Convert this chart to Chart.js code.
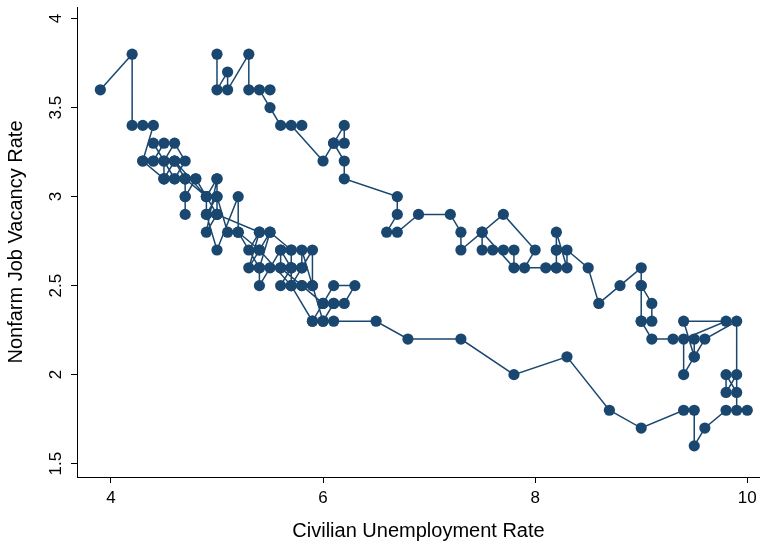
<!DOCTYPE html>
<html>
<head>
<meta charset="utf-8">
<script src="https://cdn.jsdelivr.net/npm/chart.js@4.4.1/dist/chart.umd.min.js"></script>
<style>
  html, body { margin: 0; padding: 0; background: #fff; }
  #wrap { width: 760px; height: 547px; }
</style>
</head>
<body>
<div id="wrap"><canvas id="myChart" width="760" height="547"></canvas></div>
<script>
// monthly observations, Dec 2000 onwards
const unemploymentRate = [
    3.9,
    4.2, 4.2, 4.3, 4.4, 4.3, 4.5, 4.6, 4.9, 5.0, 5.4, 5.5, 5.7,
    5.7, 5.7, 5.7, 5.9, 5.9, 5.8, 5.8, 5.7, 5.6, 5.6, 5.8, 6.0,
    5.9, 6.0, 6.1, 6.0, 6.1, 6.3, 6.2, 6.1, 6.0, 5.9, 5.8, 5.7,
    5.6, 5.7, 5.8, 5.6, 5.6, 5.5, 5.4, 5.4, 5.5, 5.4, 5.3, 5.4,
    5.3, 5.4, 5.2, 5.1, 5.0, 5.0, 4.9, 4.9, 5.0, 4.9, 5.0, 4.8,
    4.7, 4.7, 4.7, 4.6, 4.7, 4.6, 4.5, 4.4, 4.5, 4.4, 4.3, 4.4,
    4.6, 4.5, 4.5, 4.6, 4.5, 4.6, 4.7, 4.7, 4.8, 4.7, 4.9, 5.0,
    5.0, 4.9, 5.0, 5.2, 5.2, 5.4, 5.7, 5.9, 6.1, 6.5, 6.8, 7.3,
    7.8, 8.3, 8.7, 9.0, 9.4, 9.5, 9.5, 9.6, 9.8, 10.0, 9.9, 9.9,
    9.8, 9.8, 9.9, 9.9, 9.6, 9.5, 9.4, 9.4, 9.8, 9.4, 9.5, 9.5,
    9.3, 9.1, 9.0, 9.1, 9.1, 9.0, 9.0, 9.0, 9.0, 8.8, 8.6, 8.5,
    8.3, 8.3, 8.2, 8.2, 8.2, 8.2, 8.2, 8.1, 7.9, 8.0, 7.7, 7.5,
    7.8, 7.8, 7.7, 7.6, 7.5, 7.5, 7.3, 7.3, 7.2, 6.9, 6.7, 6.6,
    6.7, 6.7, 6.2, 6.2, 6.1, 6.2, 6.2, 6.1, 6.0, 5.7, 5.8, 5.6,
    5.5, 5.4, 5.5, 5.3, 5.3, 5.1, 5.1, 5.0, 5.0
];
const vacancyRate = [
    3.6,
    3.8, 3.4, 3.4, 3.4, 3.2, 3.1, 3.2, 3.0, 2.9, 2.8, 2.8, 2.7,
    2.6, 2.7, 2.5, 2.7, 2.5, 2.7, 2.6, 2.6, 2.7, 2.6, 2.5, 2.4,
    2.3, 2.3, 2.4, 2.4, 2.5, 2.5, 2.4, 2.4, 2.3, 2.5, 2.5, 2.5,
    2.5, 2.6, 2.6, 2.6, 2.7, 2.6, 2.5, 2.6, 2.8, 2.7, 2.6, 2.8,
    2.7, 2.6, 2.8, 2.8, 3.0, 2.9, 2.9, 3.0, 3.1, 2.8, 2.9, 3.1,
    3.0, 2.9, 3.1, 3.1, 3.2, 3.3, 3.2, 3.3, 3.3, 3.2, 3.2, 3.2,
    3.2, 3.1, 3.2, 3.1, 3.1, 3.2, 3.1, 3.0, 3.1, 3.1, 3.0, 3.1,
    3.0, 2.9, 2.7, 3.0, 2.8, 2.7, 2.5, 2.3, 2.3, 2.3, 2.2, 2.2,
    2.0, 2.1, 1.8, 1.7, 1.8, 1.8, 1.6, 1.7, 1.8, 1.8, 1.8, 2.0,
    1.9, 2.0, 1.9, 2.3, 2.2, 2.1, 2.0, 2.2, 2.3, 2.3, 2.1, 2.2,
    2.2, 2.2, 2.3, 2.3, 2.4, 2.5, 2.3, 2.5, 2.6, 2.5, 2.4, 2.6,
    2.7, 2.6, 2.8, 2.7, 2.6, 2.7, 2.6, 2.6, 2.6, 2.7, 2.9, 2.8,
    2.6, 2.7, 2.7, 2.7, 2.7, 2.8, 2.7, 2.8, 2.9, 2.9, 2.8, 2.8,
    2.9, 3.0, 3.1, 3.2, 3.3, 3.4, 3.3, 3.3, 3.2, 3.4, 3.4, 3.4,
    3.5, 3.6, 3.6, 3.6, 3.8, 3.6, 3.7, 3.6, 3.8
];

const xTicks = [4, 6, 8, 10];
const yTicks = [1.5, 2, 2.5, 3, 3.5, 4];

const navy = '#1a476f';
const fontFamily = '"Liberation Sans", Arial, Helvetica, sans-serif';

const points = unemploymentRate.map((u, i) => ({ x: u, y: vacancyRate[i] }));

// tick labels drawn by hand: x labels centred under the ticks,
// y labels rotated to read bottom to top
const tickLabels = {
    id: 'tickLabels',
    afterDraw(chart) {
        const ctx = chart.ctx;
        const xScale = chart.scales.x;
        const yScale = chart.scales.y;
        ctx.save();
        ctx.fillStyle = '#000';
        ctx.font = '17px ' + fontFamily;
        ctx.textAlign = 'center';
        ctx.textBaseline = 'middle';
        xTicks.forEach(v => {
            ctx.fillText(String(v), xScale.getPixelForValue(v), xScale.top + 21);
        });
        yTicks.forEach(v => {
            const py = yScale.getPixelForValue(v);
            ctx.save();
            ctx.translate(yScale.right - 21, py);
            ctx.rotate(-Math.PI / 2);
            ctx.fillText(String(v), 0, 0);
            ctx.restore();
        });
        ctx.restore();
    }
};

const ctx = document.getElementById('myChart').getContext('2d');
new Chart(ctx, {
    type: 'line',
    data: {
        datasets: [{
            data: points,
            showLine: true,
            borderColor: navy,
            borderWidth: 1.5,
            backgroundColor: navy,
            pointBackgroundColor: navy,
            pointBorderColor: navy,
            pointBorderWidth: 0,
            pointRadius: 5.6,
            tension: 0,
            fill: false,
            clip: false
        }]
    },
    options: {
        responsive: false,
        animation: false,
        layout: {
            autoPadding: false,
            padding: { top: 7, right: 0, left: 0, bottom: 0 }
        },
        plugins: {
            legend: { display: false },
            tooltip: { enabled: false }
        },
        scales: {
            x: {
                type: 'linear',
                min: 3.68,
                max: 10.12,
                afterBuildTicks: axis => { axis.ticks = xTicks.map(v => ({ value: v })); },
                afterFit: axis => { axis.height = 70; },
                grid: { display: true, drawOnChartArea: false, drawTicks: true, tickLength: 6, color: '#000', lineWidth: 1 },
                border: { display: true, color: '#000', width: 1 },
                ticks: { display: false },
                title: {
                    display: true,
                    text: 'Civilian Unemployment Rate',
                    color: '#000',
                    font: { family: fontFamily, size: 20 },
                    padding: { top: 0, bottom: 4 }
                }
            },
            y: {
                type: 'linear',
                min: 1.425,
                max: 4.065,
                afterBuildTicks: axis => { axis.ticks = yTicks.map(v => ({ value: v })); },
                afterFit: axis => { axis.width = 77; },
                grid: { display: true, drawOnChartArea: false, drawTicks: true, tickLength: 6, color: '#000', lineWidth: 1 },
                border: { display: true, color: '#000', width: 1 },
                ticks: { display: false },
                title: {
                    display: true,
                    text: 'Nonfarm Job Vacancy Rate',
                    color: '#000',
                    font: { family: fontFamily, size: 20 },
                    padding: { top: 4, bottom: 0 }
                }
            }
        }
    },
    plugins: [tickLabels]
});
</script>
</body>
</html>
